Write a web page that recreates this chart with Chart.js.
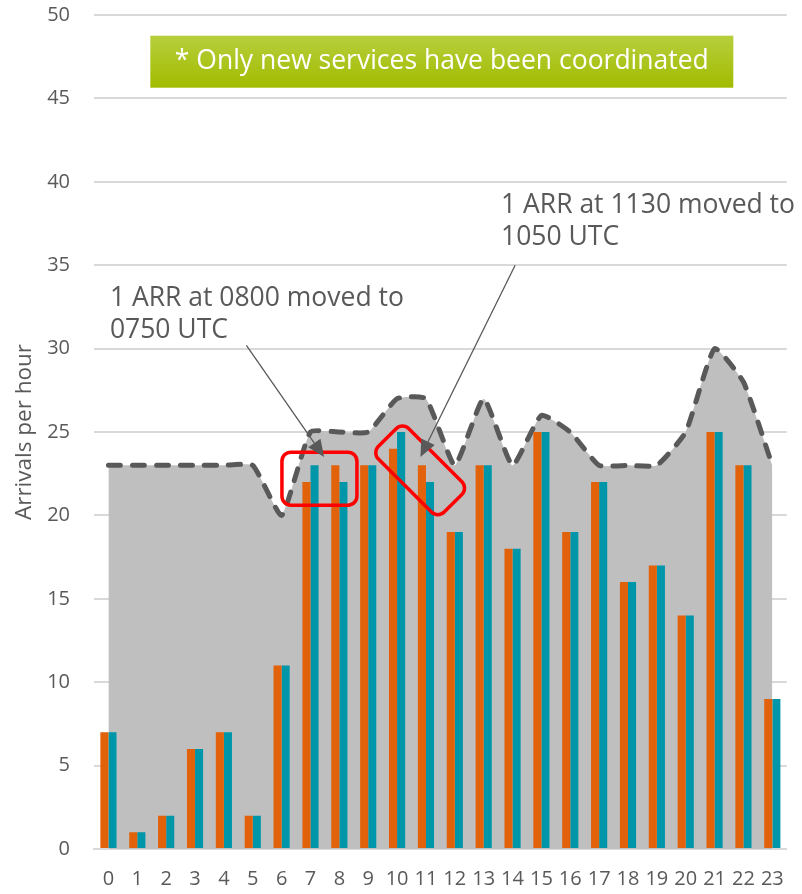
<!DOCTYPE html>
<html lang="en">
<head>
<meta charset="UTF-8">
<title>Arrivals per hour</title>
<script src="https://cdn.jsdelivr.net/npm/chart.js"></script>
<style>
  html, body { margin: 0; padding: 0; background: #fff; }
  canvas { display: block; }
</style>
</head>
<body>
<canvas id="arrChart" width="802" height="894"></canvas>
<script>
// hours of the day
const hours = ['0','1','2','3','4','5','6','7','8','9','10','11','12','13','14','15','16','17','18','19','20','21','22','23'];
// declared capacity (grey area)
const capacity = [23,23,23,23,23,23,20,25,25,25,27,27,23,27,23,26,25,23,23,23,25,30,28,23];
// arrivals before coordination (orange)
const arrBefore = [7,1,2,6,7,2,11,22,23,23,24,23,19,23,18,25,19,22,16,17,14,25,23,9];
// arrivals after coordination (teal)
const arrAfter = [7,1,2,6,7,2,11,23,22,23,25,22,19,23,18,25,19,22,16,17,14,25,23,9];

const yTicks = [0,5,10,15,20,25,30,35,40,45,50];

const grey = '#595959';
const fontFam = '"Open Sans", "Noto Sans", Arial, sans-serif';

// annotations, placed in data units (x = hour index, y = arrivals)
const notes = [
  { lines: ['1 ARR at 0800 moved to', '0750 UTC'], x: 0.05, y: 33.0 },
  { lines: ['1 ARR at 1130 moved to', '1050 UTC'], x: 13.6, y: 38.6 }
];
const arrows = [
  { from: [4.78, 30.2], to: [7.47, 23.5] },
  { from: [14.09, 35.0], to: [10.81, 23.5] }
];
const redBoxes = [
  { x: 7.31, y: 22.2, w: 75, h: 53, angle: 0 },
  { x: 10.8, y: 22.7, w: 93, h: 43, angle: 45 }
];
const banner = { x: 11.55, y: 47.2, w: 583, h: 52, text: '* Only new services have been coordinated' };

function roundRect(ctx, x, y, w, h, r) {
  ctx.beginPath();
  ctx.moveTo(x + r, y);
  ctx.arcTo(x + w, y, x + w, y + h, r);
  ctx.arcTo(x + w, y + h, x, y + h, r);
  ctx.arcTo(x, y + h, x, y, r);
  ctx.arcTo(x, y, x + w, y, r);
  ctx.closePath();
}

const notesPlugin = {
  id: 'notes',
  afterDatasetsDraw(chart) {
    const ctx = chart.ctx;
    const xs = chart.scales.x, ys = chart.scales.y;
    const px = v => xs.getPixelForValue(v);
    const py = v => ys.getPixelForValue(v);

    // red boxes
    redBoxes.forEach(b => {
      ctx.save();
      ctx.translate(px(b.x), py(b.y));
      ctx.rotate(b.angle * Math.PI / 180);
      ctx.strokeStyle = '#ff0000';
      ctx.lineWidth = 3.5;
      roundRect(ctx, -b.w / 2, -b.h / 2, b.w, b.h, 9);
      ctx.stroke();
      ctx.restore();
    });

    // arrows
    arrows.forEach(a => {
      const x1 = px(a.from[0]), y1 = py(a.from[1]);
      const x2 = px(a.to[0]), y2 = py(a.to[1]);
      const ang = Math.atan2(y2 - y1, x2 - x1);
      const len = 17, half = 7.5;
      const bx = x2 - len * Math.cos(ang), by = y2 - len * Math.sin(ang);
      ctx.save();
      ctx.strokeStyle = grey;
      ctx.lineWidth = 1.3;
      ctx.beginPath();
      ctx.moveTo(x1, y1);
      ctx.lineTo(bx, by);
      ctx.stroke();
      ctx.fillStyle = grey;
      ctx.beginPath();
      ctx.moveTo(x2, y2);
      ctx.lineTo(bx + half * Math.sin(ang), by - half * Math.cos(ang));
      ctx.lineTo(bx - half * Math.sin(ang), by + half * Math.cos(ang));
      ctx.closePath();
      ctx.fill();
      ctx.restore();
    });

    // text notes
    ctx.save();
    ctx.fillStyle = grey;
    ctx.font = '26.5px ' + fontFam;
    ctx.textAlign = 'left';
    ctx.textBaseline = 'middle';
    notes.forEach(n => {
      n.lines.forEach((t, i) => ctx.fillText(t, px(n.x), py(n.y) + i * 32));
    });
    ctx.restore();

    // green banner
    ctx.save();
    const cx = px(banner.x), cy = py(banner.y);
    const gx = cx - banner.w / 2, gy = cy - banner.h / 2;
    const grad = ctx.createLinearGradient(0, gy, 0, gy + banner.h);
    grad.addColorStop(0, '#b7cf3c');
    grad.addColorStop(1, '#a2bb00');
    ctx.fillStyle = grad;
    ctx.fillRect(gx, gy, banner.w, banner.h);
    ctx.fillStyle = '#ffffff';
    ctx.font = '26.5px ' + fontFam;
    ctx.textAlign = 'center';
    ctx.textBaseline = 'middle';
    ctx.fillText(banner.text, cx, cy);
    ctx.restore();
  }
};

const ctx = document.getElementById('arrChart').getContext('2d');
new Chart(ctx, {
  type: 'bar',
  data: {
    labels: hours,
    datasets: [
      {
        type: 'line',
        label: 'Capacity',
        data: capacity,
        backgroundColor: '#bfbfbf',
        borderColor: grey,
        borderWidth: 5,
        borderDash: [12, 12],
        borderCapStyle: 'round',
        fill: 'origin',
        tension: 0.15,
        pointRadius: 0,
        order: 3
      },
      {
        label: 'Before',
        data: arrBefore,
        backgroundColor: '#e2620b',
        categoryPercentage: 0.56,
        barPercentage: 1.0,
        order: 1
      },
      {
        label: 'After',
        data: arrAfter,
        backgroundColor: '#0096aa',
        categoryPercentage: 0.56,
        barPercentage: 1.0,
        order: 1
      }
    ]
  },
  options: {
    responsive: false,
    animation: false,
    layout: { padding: { top: 15, right: 12, left: 0, bottom: 0 } },
    plugins: {
      legend: { display: false },
      tooltip: { enabled: false }
    },
    scales: {
      x: {
        offset: true,
        grid: { display: false, drawTicks: false },
        border: { display: true, color: '#d9d9d9', width: 2 },
        ticks: { color: grey, font: { family: fontFam, size: 20 }, padding: 18, maxRotation: 0, autoSkip: false },
        afterFit(s) { s.height = 45; }
      },
      y: {
        min: 0,
        max: 50,
        afterBuildTicks(s) { s.ticks = yTicks.map(v => ({ value: v })); },
        grid: { color: '#d9d9d9', lineWidth: 2, drawTicks: false },
        border: { display: false },
        ticks: { color: grey, font: { family: fontFam, size: 20 }, padding: 24 },
        title: { display: true, text: 'Arrivals per hour', color: grey, font: { family: fontFam, size: 22.5 }, padding: { top: 11, bottom: 0 } },
        afterFit(s) { s.width = 94; s.paddingTop = 0; s.paddingBottom = 0; }
      }
    }
  },
  plugins: [notesPlugin]
});
</script>
</body>
</html>
